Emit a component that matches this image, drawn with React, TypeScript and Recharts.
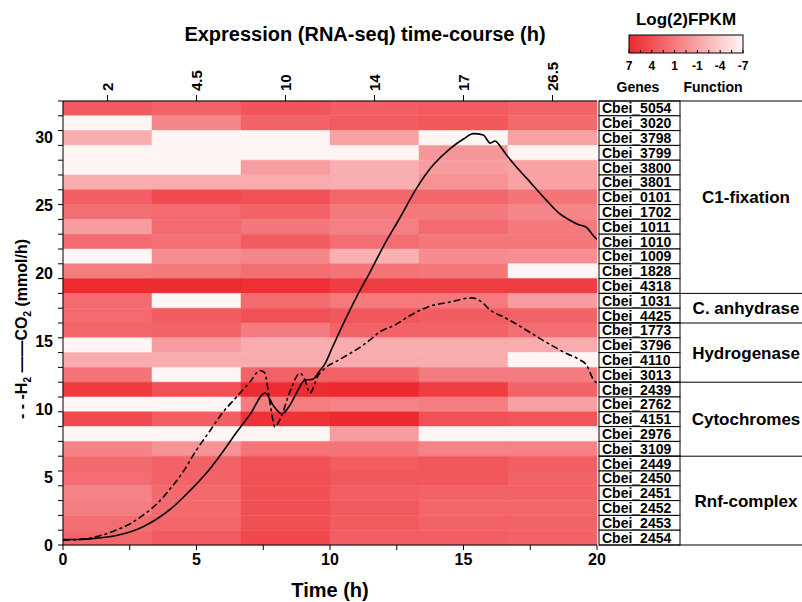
import { ComposedChart, Line, ReferenceArea, Scatter, XAxis, YAxis } from "recharts";

const FONT = "'Liberation Sans', Arial, Helvetica, sans-serif";

// RNA-seq sampling points (h), one heatmap column each
const timePoints = ["2", "4.5", "10", "14", "17", "26.5"];

const genes = [
  "Cbei_5054", "Cbei_3020", "Cbei_3798", "Cbei_3799", "Cbei_3800", "Cbei_3801",
  "Cbei_0101", "Cbei_1702", "Cbei_1011", "Cbei_1010", "Cbei_1009", "Cbei_1828",
  "Cbei_4318", "Cbei_1031", "Cbei_4425", "Cbei_1773", "Cbei_3796", "Cbei_4110",
  "Cbei_3013", "Cbei_2439", "Cbei_2762", "Cbei_4151", "Cbei_2976", "Cbei_3109",
  "Cbei_2449", "Cbei_2450", "Cbei_2451", "Cbei_2452", "Cbei_2453", "Cbei_2454",
];

const functionGroups = ["C1-fixation", "C. anhydrase", "Hydrogenase", "Cytochromes", "Rnf-complex"];
const groupSizes = [13, 2, 4, 5, 6];

// log2 FPKM, one row per gene (top to bottom), one value per time point
const expression = [
  [3.6, 3.0, 4.0, 3.3, 3.5, 3.0],
  [-7, 0.5, 3.0, 3.5, 3.8, 2.5],
  [-2, -7, -7, -1.3, -7, -1.3],
  [-7, -7, -7, -7, -0.5, -7],
  [-7, -7, -1.0, -2.2, -1.0, -1.3],
  [-2, -2, -2, -2.2, -0.2, -1.3],
  [3.3, 4.6, 4.2, 2.8, 2.8, 1.8],
  [2.2, 2.4, 3.0, 1.5, 1.5, 0.6],
  [-1.0, 2.4, 1.6, 1.0, 2.4, 1.5],
  [2.4, 2.0, 3.5, 2.2, 1.6, 1.6],
  [-7, 0.0, 0.5, -2.3, 0.2, 0.0],
  [1.2, 1.5, 2.2, 1.8, 1.6, -7],
  [6.7, 6.7, 6.5, 5.5, 5.5, 5.5],
  [2.4, -7, 2.4, 1.4, 1.4, -1.0],
  [2.4, 3.4, 4.2, 3.8, 3.4, 3.0],
  [2.8, 3.0, 1.3, 3.0, 3.0, 2.2],
  [-7, -1.0, -2.0, -2.0, -2.0, -2.0],
  [-2.0, -2.0, -2.0, -2.0, -2.0, -7],
  [1.8, -7, 3.0, 3.0, 1.3, 1.3],
  [5.8, 4.2, 6.7, 7.0, 5.6, 3.0],
  [-7, -7, 1.2, 0.8, 1.2, -1.2],
  [4.7, 3.3, 6.3, 6.9, 4.2, 4.0],
  [-7, -7, -7, -1.0, -7, -7],
  [0.8, -0.3, 1.8, 1.8, 0.8, 0.8],
  [2.5, 3.0, 4.2, 3.5, 3.7, 3.3],
  [2.2, 3.0, 4.3, 3.8, 3.8, 3.0],
  [0.8, 2.5, 4.3, 3.3, 3.0, 3.0],
  [1.2, 2.5, 4.3, 3.6, 2.7, 2.7],
  [2.2, 2.7, 4.3, 3.5, 3.0, 3.0],
  [2.7, 3.5, 4.8, 3.3, 3.3, 3.0],
];

const legendTicks = [7, 4, 1, -1, -4, -7];

// [time h, mmol/h]
const co2Series: [number, number][] = [
  [0, 0.4], [0.5, 0.4], [1, 0.45], [1.5, 0.55], [2, 0.7], [2.5, 0.95], [3, 1.35],
  [3.5, 1.9], [4, 2.6], [4.5, 3.5], [5, 4.5], [5.5, 5.6], [6, 6.9], [6.5, 8.3],
  [7, 9.6], [7.57, 11.2], [7.9, 10.2], [8.2, 9.65], [8.5, 10.3], [8.8, 11.4],
  [9.06, 12.15], [9.35, 12.2], [9.6, 12.8], [9.8, 13.3], [10.1, 14.6], [10.5, 16.3],
  [11, 18.3], [11.5, 20.1], [12, 22.0], [12.62, 24.1], [13.25, 26.3], [13.87, 28.0],
  [14.5, 29.2], [15, 29.9], [15.37, 30.3], [15.74, 30.2], [16.0, 29.6], [16.18, 29.75],
  [16.4, 29.3], [16.62, 28.7], [17.0, 27.8], [17.37, 27.0], [18.1, 25.4], [18.6, 24.4],
  [19.0, 23.9], [19.3, 23.6], [19.6, 23.4], [19.86, 22.8], [20, 22.5],
];

const h2Series: [number, number][] = [
  [0, 0.35], [0.5, 0.4], [1, 0.5], [1.5, 0.75], [2, 1.1], [2.5, 1.55], [3, 2.2],
  [3.5, 3.0], [4, 4.1], [4.5, 5.4], [5, 7.0], [5.5, 8.4], [6, 9.8], [6.5, 10.9],
  [7, 12.0], [7.38, 12.85], [7.55, 12.7], [7.75, 10.5], [7.94, 8.7], [8.2, 9.6],
  [8.5, 11.3], [8.88, 12.65], [9.05, 12.2], [9.25, 11.2], [9.56, 12.5], [9.8, 13.0],
  [10.3, 13.6], [10.75, 14.1], [11.5, 15.1], [11.87, 15.7], [12.43, 16.2], [13, 16.9],
  [13.62, 17.5], [14.5, 17.9], [15.3, 18.2], [15.68, 17.9], [16.0, 17.3], [16.5, 16.8],
  [17.0, 16.25], [17.87, 15.2], [18.86, 14.1], [19.3, 13.7], [19.61, 13.25],
  [19.86, 12.2], [20, 11.9],
];

const CHART_W = 802;
const CHART_H = 602;
const TOP_AXIS_H = 101;
const BOTTOM_AXIS_H = 57;
const ROW_PX = (CHART_H - TOP_AXIS_H - BOTTOM_AXIS_H) / genes.length;

const nRows = genes.length;
const co2Data = co2Series.map(([t, v]) => ({ t, v }));
const h2Data = h2Series.map(([t, v]) => ({ t, v }));

// one anchor point per gene row, so the row / gene axes have data of their own
const rowAnchors = genes.map((_, i) => ({ col: 0.5, row: nRows - i - 0.5 }));

const groupStarts = groupSizes.map((_, i) => groupSizes.slice(0, i).reduce((a, b) => a + b, 0));

const RED = [237, 40, 46];
const WHITE = [255, 245, 245];

function fpkmColor(v: number): string {
  const f = Math.min(1, Math.max(0, (7 - v) / 14));
  const c = RED.map((r, k) => Math.round(r + (WHITE[k] - r) * f));
  return `rgb(${c[0]},${c[1]},${c[2]})`;
}

function TopTick({ x, y, payload }: any) {
  const label = timePoints[Math.floor(payload.value)];
  const bx = x + 5.5;
  return (
    <text
      x={bx}
      y={y}
      transform={`rotate(-90, ${bx}, ${y})`}
      textAnchor="start"
      fontSize={15}
      fontWeight="bold"
      fontFamily={FONT}
      fill="#000"
    >
      {label}
    </text>
  );
}

// gene box, plus the function column (group divider and name) on a group's first row
function GeneTick({ x, y, payload }: any) {
  const i = nRows - 1 - Math.floor(payload.value);
  const g = groupStarts.indexOf(i);
  const top = y - ROW_PX / 2;
  return (
    <g>
      <rect x={x + 2} y={top} width={81} height={ROW_PX} fill="#fff" stroke="#000" strokeWidth={1} />
      <text x={x + 5} y={y + 5} fontSize={14} fontWeight="bold" fontFamily={FONT} fill="#000">
        {genes[i]}
      </text>
      {g >= 0 && (
        <>
          <line x1={x + 2} x2={x + 205} y1={top} y2={top} stroke="#000" strokeWidth={1} />
          <text
            x={x + 149}
            y={y + ((groupSizes[g] - 1) * ROW_PX) / 2 + 6}
            textAnchor="middle"
            fontSize={17}
            fontWeight="bold"
            fontFamily={FONT}
            fill="#000"
          >
            {functionGroups[g]}
          </text>
        </>
      )}
      {i === nRows - 1 && (
        <line x1={x + 2} x2={x + 205} y1={top + ROW_PX} y2={top + ROW_PX} stroke="#000" strokeWidth={1} />
      )}
    </g>
  );
}

function Overlay() {
  const barX = 629;
  const barW = 114;
  const barY = 35;
  const barH = 18;
  return (
    <svg
      width={CHART_W}
      height={CHART_H}
      style={{ position: "absolute", left: 0, top: 0, pointerEvents: "none" }}
      fontFamily={FONT}
      fontWeight="bold"
    >
      <defs>
        <linearGradient id="fpkm" x1="0" y1="0" x2="1" y2="0">
          <stop offset="0%" stopColor={fpkmColor(7)} />
          <stop offset="100%" stopColor={fpkmColor(-7)} />
        </linearGradient>
      </defs>
      <text x={365} y={41} textAnchor="middle" fontSize={20}>
        Expression (RNA-seq) time-course (h)
      </text>
      <text x={686} y={25} textAnchor="middle" fontSize={17}>
        Log(2)FPKM
      </text>
      <rect x={barX} y={barY} width={barW} height={barH} fill="url(#fpkm)" stroke="#000" strokeWidth={1} />
      {Array.from({ length: 11 }, (_, k) => (
        <line
          key={k}
          x1={barX + (barW * k) / 10}
          x2={barX + (barW * k) / 10}
          y1={barY + barH}
          y2={barY + barH - 3}
          stroke="#000"
        />
      ))}
      {legendTicks.map((v, k) => (
        <text key={v} x={barX + (barW * k) / 5} y={70} textAnchor="middle" fontSize={12}>
          {v}
        </text>
      ))}
      <text x={638} y={92} textAnchor="middle" fontSize={14}>
        Genes
      </text>
      <text x={713} y={92} textAnchor="middle" fontSize={14}>
        Function
      </text>
      <text x={27} y={329} transform="rotate(-90, 27, 329)" textAnchor="middle" fontSize={16}>
        - - -H
        <tspan fontSize={10} dy={4}>2</tspan>
        <tspan dy={-4}> ——CO</tspan>
        <tspan fontSize={10} dy={4}>2</tspan>
        <tspan dy={-4}> (mmol/h)</tspan>
      </text>
      <text x={330} y={597} textAnchor="middle" fontSize={20}>
        Time (h)
      </text>
    </svg>
  );
}

const axisTick = { fill: "#000", fontSize: 16, fontWeight: "bold", fontFamily: FONT };
const Empty = () => <g />;

export default function App() {
  return (
    <div
      style={{
        position: "absolute",
        left: 0,
        top: 0,
        width: CHART_W,
        height: CHART_H,
        background: "#fff",
        fontFamily: FONT,
      }}
    >
      <ComposedChart width={CHART_W} height={CHART_H} margin={{ top: 0, right: 204, bottom: 0, left: 61 }}>
        <Scatter xAxisId="cols" yAxisId="rows" data={rowAnchors} shape={Empty} isAnimationActive={false} />
        <Scatter xAxisId="cols" yAxisId="genes" data={rowAnchors} shape={Empty} isAnimationActive={false} />
        {expression.map((row, i) =>
          row.map((v, c) => (
            <ReferenceArea
              key={`${i}-${c}`}
              xAxisId="cols"
              yAxisId="rows"
              x1={c}
              x2={c + 1}
              y1={nRows - i - 1}
              y2={nRows - i}
              fill={fpkmColor(v)}
              fillOpacity={1}
              stroke={fpkmColor(v)}
              strokeWidth={0.5}
              ifOverflow="visible"
            />
          ))
        )}
        <XAxis
          xAxisId="cols"
          dataKey="col"
          orientation="top"
          type="number"
          domain={[0, timePoints.length]}
          ticks={timePoints.map((_, i) => i + 0.5)}
          interval={0}
          allowDataOverflow
          height={TOP_AXIS_H}
          tickSize={6}
          tickMargin={4}
          tick={<TopTick />}
          stroke="#000"
        />
        <XAxis
          xAxisId="t"
          dataKey="t"
          type="number"
          domain={[0, 20]}
          ticks={[0, 2.5, 5, 7.5, 10, 12.5, 15, 17.5, 20]}
          interval={0}
          tickFormatter={(v: number) => (v % 5 === 0 ? String(v) : "")}
          allowDataOverflow
          height={BOTTOM_AXIS_H}
          tickSize={5}
          tickMargin={4}
          tick={axisTick}
          stroke="#000"
        />
        <YAxis
          yAxisId="v"
          dataKey="v"
          type="number"
          domain={[0, 32.7]}
          ticks={[0, 5, 10, 15, 20, 25, 30]}
          interval={0}
          allowDataOverflow
          width={1}
          tickSize={0}
          tickMargin={9}
          axisLine={false}
          tickLine={false}
          tick={axisTick}
        />
        <YAxis
          yAxisId="rows"
          dataKey="row"
          type="number"
          domain={[0, nRows]}
          ticks={Array.from({ length: nRows + 1 }, (_, i) => i)}
          interval={0}
          allowDataOverflow
          width={1}
          tickSize={5}
          tick={<Empty />}
          stroke="#000"
        />
        <YAxis
          yAxisId="genes"
          dataKey="row"
          orientation="right"
          type="number"
          domain={[0, nRows]}
          ticks={rowAnchors.map((a) => a.row)}
          interval={0}
          allowDataOverflow
          width={1}
          tickSize={0}
          tickMargin={0}
          axisLine={false}
          tickLine={false}
          tick={<GeneTick />}
        />
        <Line
          xAxisId="t"
          yAxisId="v"
          data={co2Data}
          dataKey="v"
          type="monotone"
          stroke="#000"
          strokeWidth={1.6}
          dot={false}
          activeDot={false}
          isAnimationActive={false}
        />
        <Line
          xAxisId="t"
          yAxisId="v"
          data={h2Data}
          dataKey="v"
          type="monotone"
          stroke="#000"
          strokeWidth={1.6}
          strokeDasharray="7 3 3 3"
          dot={false}
          activeDot={false}
          isAnimationActive={false}
        />
      </ComposedChart>
      <Overlay />
    </div>
  );
}
